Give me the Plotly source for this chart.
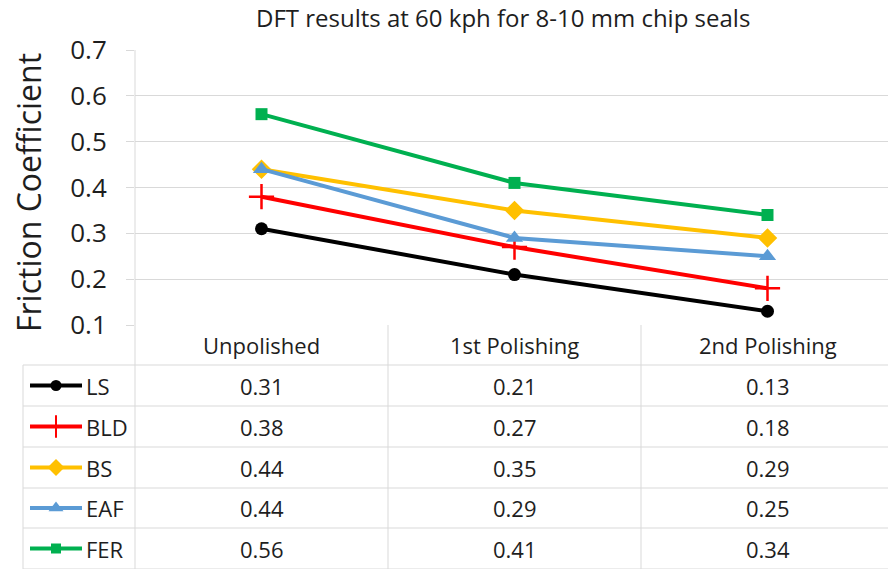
import plotly.graph_objects as go

# Friction coefficients measured by the Dynamic Friction Tester at 60 kph
stages = ["Unpolished", "1st Polishing", "2nd Polishing"]
series_names = ["LS", "BLD", "BS", "EAF", "FER"]
ls_values = [0.31, 0.21, 0.13]
bld_values = [0.38, 0.27, 0.18]
bs_values = [0.44, 0.35, 0.29]
eaf_values = [0.44, 0.29, 0.25]
fer_values = [0.56, 0.41, 0.34]
y_ticks = [0.1, 0.2, 0.3, 0.4, 0.5, 0.6, 0.7]

values = [ls_values, bld_values, bs_values, eaf_values, fer_values]
colors = ["#000000", "#FF0000", "#FFC000", "#5B9BD5", "#00B050"]
symbols = ["circle", "cross-thin", "diamond", "triangle-up", "square"]
sizes = [13, 18, 15, 15, 12]

W, H = 888, 569
FONT = "Open Sans"
GRID = "#D9D9D9"
TEXT = "#1E1E1E"

# layout geometry in pixels
plot_left, plot_right = 135, 888
plot_top, plot_bottom = 50, 325
col_w = 253
row_lines = [325, 365, 406, 447, 488, 528, 569]
table_left = 23


def px(x):
    return x / W


def py(y):
    return 1 - y / H


fig = go.Figure()

x_idx = list(range(len(stages)))
for name, vals, c, s, sz in zip(series_names, values, colors, symbols, sizes):
    marker = dict(color=c, size=sz, symbol=s)
    if s == "cross-thin":
        marker["line"] = dict(color=c, width=2.5)
    fig.add_trace(go.Scatter(
        x=x_idx, y=vals, mode="lines+markers", name=name,
        line=dict(color=c, width=4), marker=marker,
        xaxis="x", yaxis="y", showlegend=False, hoverinfo="skip"))

# legend keys inside the data table (pixel axes spanning the whole figure)
row_centers = [(row_lines[i] + row_lines[i + 1]) / 2 for i in range(1, 6)]
for name, c, s, sz, yc in zip(series_names, colors, symbols, sizes, row_centers):
    marker = dict(color=c, size=sz - 2, symbol=s)
    if s == "cross-thin":
        marker["line"] = dict(color=c, width=2)
    fig.add_trace(go.Scatter(
        x=[30, 82], y=[yc, yc], mode="lines", line=dict(color=c, width=4),
        xaxis="x2", yaxis="y2", showlegend=False, hoverinfo="skip"))
    fig.add_trace(go.Scatter(
        x=[56], y=[yc], mode="markers", marker=marker,
        xaxis="x2", yaxis="y2", showlegend=False, hoverinfo="skip"))

shapes = []
line_style = dict(color=GRID, width=1)
# horizontal table rules
for yl in row_lines[1:]:
    shapes.append(dict(type="line", xref="paper", yref="paper", layer="below",
                       x0=px(table_left), x1=1, y0=py(yl), y1=py(yl), line=line_style))
# vertical rules
shapes.append(dict(type="line", xref="paper", yref="paper", layer="below",
                   x0=px(plot_left), x1=px(plot_left), y0=py(plot_top), y1=0, line=line_style))
shapes.append(dict(type="line", xref="paper", yref="paper", layer="below",
                   x0=px(table_left), x1=px(table_left), y0=py(row_lines[1]), y1=0,
                   line=line_style))
for k in range(1, len(stages)):
    xb = plot_left + k * col_w
    shapes.append(dict(type="line", xref="paper", yref="paper", layer="below",
                       x0=px(xb), x1=px(xb), y0=py(plot_bottom), y1=0, line=line_style))

annotations = []
cell_font = dict(size=22, color=TEXT, family=FONT)
# category headers and values
header_y = (row_lines[0] + row_lines[1]) / 2
for j, st in enumerate(stages):
    annotations.append(dict(x=j, y=py(header_y), xref="x", yref="paper", text=st,
                            xanchor="center", yanchor="middle", showarrow=False, font=cell_font))
    for vals, yc in zip(values, row_centers):
        annotations.append(dict(x=j, y=py(yc), xref="x", yref="paper", text=f"{vals[j]:.2f}",
                                xanchor="center", yanchor="middle", showarrow=False,
                                font=cell_font))
for name, yc in zip(series_names, row_centers):
    annotations.append(dict(x=px(84), y=py(yc), xref="paper", yref="paper", text=name,
                            xanchor="left", yanchor="middle", showarrow=False, font=cell_font))

# y-axis title and chart title
annotations.append(dict(x=px(28), y=py(193), xref="paper", yref="paper",
                        text="Friction Coefficient", textangle=-90, showarrow=False,
                        xanchor="center", yanchor="middle",
                        font=dict(size=32, color=TEXT, family=FONT)))
annotations.append(dict(x=px(503), y=py(18), xref="paper", yref="paper",
                        text="DFT results at 60 kph for 8-10 mm chip seals", showarrow=False,
                        xanchor="center", yanchor="middle",
                        font=dict(size=24, color=TEXT, family=FONT)))

fig.update_layout(
    width=W, height=H, margin=dict(l=0, r=0, t=0, b=0, pad=0, autoexpand=False),
    paper_bgcolor="white", plot_bgcolor="rgba(0,0,0,0)",
    xaxis=dict(domain=[px(plot_left), 1],
               range=[-0.5, -0.5 + (plot_right - plot_left) / col_w],
               showticklabels=False, showgrid=False, zeroline=False, showline=False,
               fixedrange=True),
    yaxis=dict(domain=[py(plot_bottom), py(plot_top)], range=[0.1, 0.7],
               tickvals=y_ticks, tickformat=".1f", automargin=False,
               showgrid=True, gridcolor=GRID, gridwidth=1, zeroline=False,
               ticks="outside", ticklen=8, tickcolor=GRID, ticklabelstandoff=14,
               tickfont=dict(size=26, color=TEXT, family=FONT), fixedrange=True),
    xaxis2=dict(domain=[0, 1], range=[0, W], visible=False, anchor="y2", fixedrange=True),
    yaxis2=dict(domain=[0, 1], range=[H, 0], visible=False, anchor="x2", fixedrange=True),
    shapes=shapes, annotations=annotations,
)

fig.write_html("out.html")
